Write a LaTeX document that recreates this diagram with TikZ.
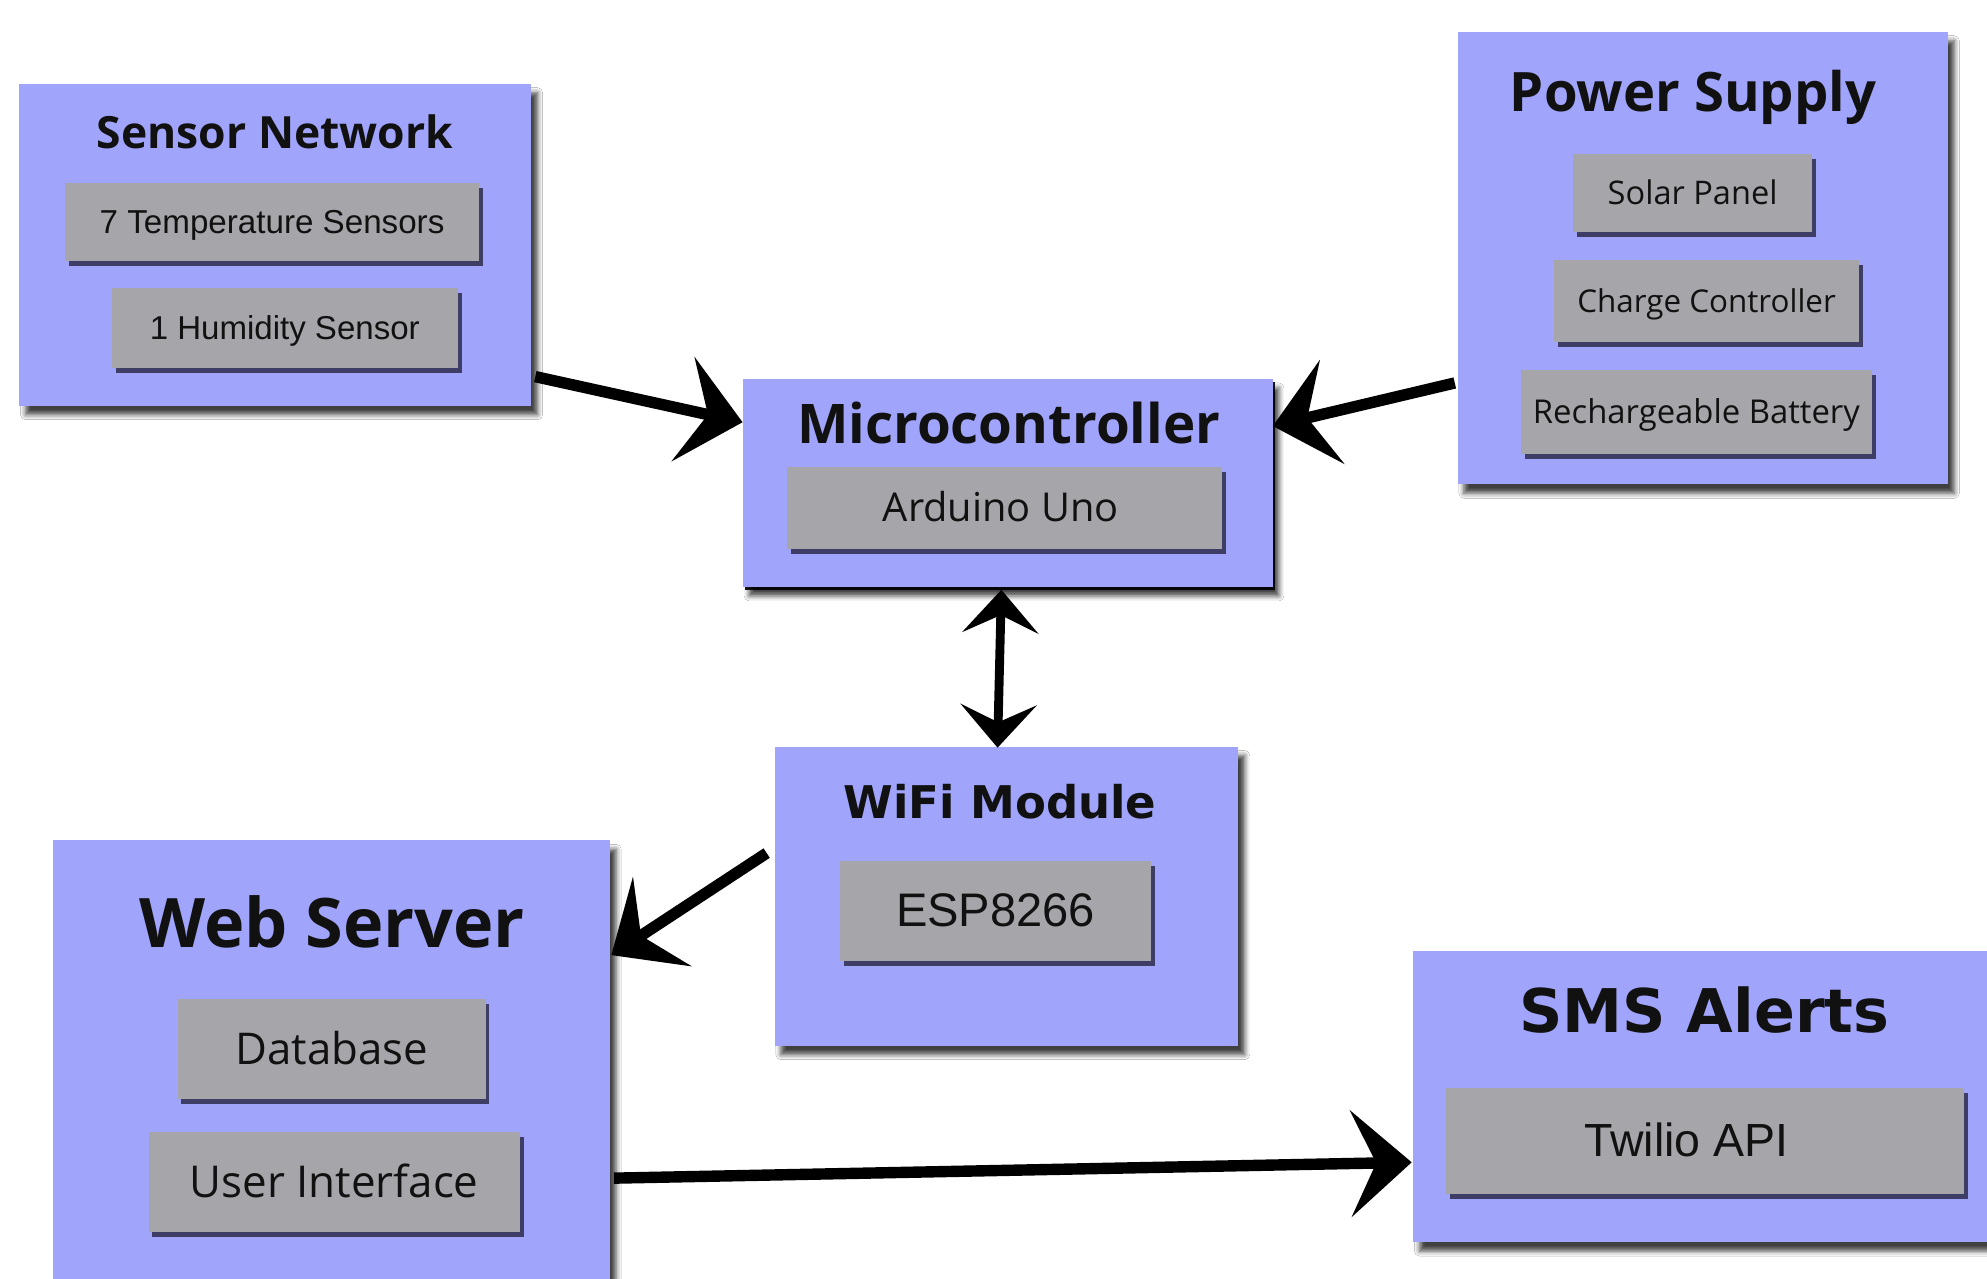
\documentclass[tikz,border=0pt]{standalone}
\usepackage{fontspec}
\setmainfont{Open Sans}
\newfontfamily\arialf{Liberation Sans}
\newfontfamily\heavyf{DejaVu Sans}
\usetikzlibrary{arrows.meta,shadows,shadows.blur}
\definecolor{grpfill}{HTML}{A0A4FA}
\definecolor{partfill}{HTML}{A6A6AA}
\definecolor{partshade}{HTML}{2C2C4C}
\definecolor{ink}{HTML}{111111}
% title: width-fitted text
\newcommand{\fitw}[2]{\resizebox{#1pt}{!}{#2}}
% part label: width-fitted, vertically centred on the capitals
\newcommand{\fitp}[3]{\resizebox{#1pt}{!}{#2\raisebox{0pt}[\fontcharht\font`A][0pt]{#3}}}
\tikzset{
  grp/.style={fill=grpfill, draw=none, inner sep=0pt, anchor=north west,
    blur shadow={shadow xshift=5pt, shadow yshift=-7pt, shadow blur radius=4pt, shadow opacity=75}},
  part/.style={fill=partfill, draw=none, inner sep=0pt, anchor=north west, text=ink,
    drop shadow={shadow xshift=3pt, shadow yshift=-4pt, fill=partshade, opacity=0.85}},
  ttl/.style={anchor=base, inner sep=0pt, text=ink},
  conn/.style={line width=9pt, black, -{Stealth[length=48pt,width=84pt,inset=20pt]}},
  biconn/.style={line width=7pt, black, {Stealth[length=34pt,width=60pt,inset=14pt]}-{Stealth[length=34pt,width=60pt,inset=14pt]}}
}
\begin{document}
\begin{tikzpicture}[x=1pt,y=-1pt]
\useasboundingbox (0,0) rectangle (1568,1009);
\fill[white] (0,0) rectangle (1568,1009);

% group boxes
\node[grp, minimum width=404pt, minimum height=254pt] (sensor) at (15,66) {};
\node[grp, minimum width=387pt, minimum height=357pt] (power) at (1150,25) {};
\node[grp, minimum width=418pt, minimum height=164pt,
  drop shadow={shadow xshift=2pt, shadow yshift=-2pt, fill=black, opacity=0.9}] (micro) at (586,299) {};
\node[grp, minimum width=366pt, minimum height=236pt] (wifi) at (611,589) {};
\node[grp, minimum width=439pt, minimum height=360pt] (web) at (42,663) {};
\node[grp, minimum width=470pt, minimum height=230pt] (sms) at (1115,750) {};

% titles
\node[ttl] (sensorT) at (217,117) {\fitw{281}{\bfseries Sensor Network}};
\node[ttl] (powerT) at (1336,88) {\fitw{289}{\bfseries Power Supply}};
\node[ttl] (microT) at (796,350) {\fitw{334}{\bfseries Microcontroller}};
\node[ttl] (wifiT) at (789,646) {\fitw{247}{\heavyf\bfseries WiFi Module}};
\node[ttl] (webT) at (262,748) {\fitw{304}{\bfseries Web Server}};
\node[ttl] (smsT) at (1345,815) {\fitw{292}{\heavyf\bfseries SMS Alerts}};

% parts
\node[part, minimum width=327pt, minimum height=62pt] (temp) at (51,144) {\fitp{272}{\arialf}{7 Temperature Sensors}};
\node[part, minimum width=273pt, minimum height=63pt] (hum) at (88,227) {\fitp{213}{\arialf}{1 Humidity Sensor}};
\node[part, minimum width=189pt, minimum height=62pt] (solar) at (1241,121) {\fitp{134}{}{Solar Panel}};
\node[part, minimum width=241pt, minimum height=65pt] (charge) at (1226,205) {\fitp{204}{}{Charge Controller}};
\node[part, minimum width=277pt, minimum height=66pt] (battery) at (1200,292) {\fitp{258}{}{Rechargeable Battery}};
\node[part, minimum width=343pt, minimum height=65pt] (arduino) at (621,368) {\fitp{186}{}{Arduino Uno}\rule{6pt}{0pt}};
\node[part, minimum width=245pt, minimum height=79pt] (esp) at (663,679) {\fitp{157}{\arialf}{ESP8266}};
\node[part, minimum width=243pt, minimum height=79pt] (db) at (140,788) {\fitp{152}{}{Database}};
\node[part, minimum width=293pt, minimum height=79pt] (ui) at (117,893) {\fitp{228}{}{User Interface}};
\node[part, minimum width=409pt, minimum height=84pt] (twilio) at (1141,858) {\fitp{161}{\arialf}{Twilio API}\rule{30pt}{0pt}};

% connectors
\draw[conn] ([xshift=3pt,yshift=-104pt]sensor.east) -- ([yshift=48pt]micro.west);
\draw[conn] ([xshift=-2pt,yshift=-98.5pt]power.west) -- ([yshift=45pt]micro.east);
\draw[biconn] ([xshift=-5pt,yshift=-2pt]micro.south) -- ([xshift=-7pt,yshift=-1pt]wifi.north);
\draw[conn] ([xshift=-6pt,yshift=34pt]wifi.west) -- ([xshift=1pt,yshift=89.5pt]web.east);
\draw[conn] ([xshift=3pt,yshift=-86.5pt]web.east) -- ([xshift=-1pt,yshift=-52pt]sms.west);
\end{tikzpicture}
\end{document}
